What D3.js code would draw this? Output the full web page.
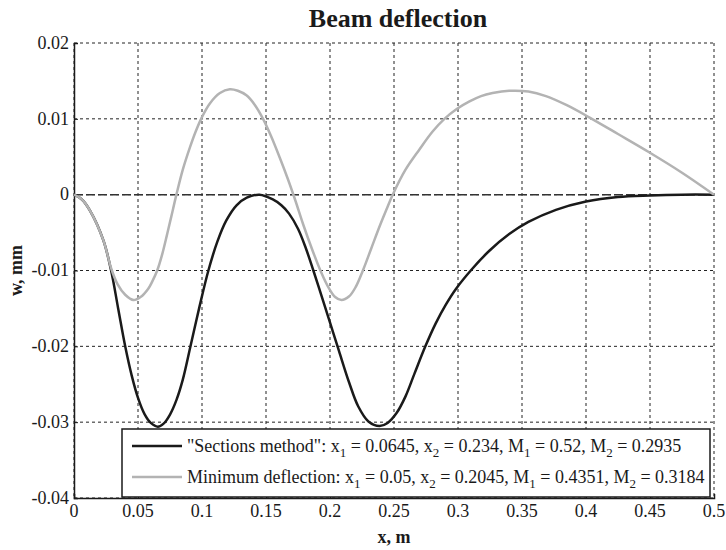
<!doctype html>
<html lang="en">
<head>
<meta charset="utf-8">
<style>
    body { margin: 0; background: #fff; }
    svg text { font-family: "Liberation Serif", "Times New Roman", serif; fill: #1a1a1a; }
    .tick-label { font-size: 18px; }
    .title { font-size: 26px; font-weight: bold; }
    .axis-label { font-size: 18px; font-weight: bold; }
    .legend text { font-size: 18px; }
</style>
<script src="https://d3js.org/d3.v7.min.js"></script>
</head>
<body>
<svg width="726" height="550"></svg>
<script>
// "Sections method" curve
const sectionsX = [0, 0.006, 0.0125, 0.0229, 0.029, 0.0345, 0.040, 0.045, 0.050, 0.055, 0.060, 0.0655, 0.070, 0.075,
    0.080, 0.085, 0.091, 0.098, 0.105, 0.112, 0.119, 0.127, 0.135, 0.145, 0.155, 0.162, 0.168, 0.175, 0.181, 0.187,
    0.195, 0.201, 0.207, 0.215, 0.222, 0.230, 0.2387, 0.245, 0.252, 0.259, 0.266, 0.2745, 0.2825, 0.2905, 0.2985,
    0.311, 0.3245, 0.340, 0.355, 0.3765, 0.400, 0.425, 0.450, 0.475, 0.500];
const sectionsW = [0, -0.0006, -0.0021, -0.0060, -0.0100, -0.0150, -0.0200, -0.0238, -0.0268, -0.0289, -0.0301, -0.0306,
    -0.0302, -0.0290, -0.0271, -0.0244, -0.0200, -0.0148, -0.0100, -0.0062, -0.0034, -0.0014, -0.0004, 0, -0.0006,
    -0.0014, -0.0025, -0.0045, -0.0070, -0.0100, -0.0142, -0.0174, -0.0206, -0.0248, -0.0279, -0.0299, -0.0305,
    -0.0301, -0.0288, -0.0266, -0.0236, -0.0200, -0.0170, -0.0145, -0.0124, -0.0098, -0.0074, -0.0052, -0.0036,
    -0.0020, -0.0009, -0.0003, -0.0001, 0, 0];

// "Minimum deflection" curve
const minimumX = [0, 0.006, 0.0125, 0.0229, 0.029, 0.034, 0.040, 0.0465, 0.052, 0.058, 0.061, 0.065, 0.069, 0.0725,
    0.076, 0.080, 0.085, 0.0905, 0.095, 0.0996, 0.106, 0.114, 0.1217, 0.128, 0.1347, 0.141, 0.1477, 0.154, 0.1607,
    0.167, 0.173, 0.179, 0.186, 0.193, 0.199, 0.204, 0.209, 0.215, 0.220, 0.2257, 0.232, 0.2387, 0.244, 0.249, 0.259,
    0.270, 0.280, 0.2894, 0.299, 0.309, 0.318, 0.327, 0.340, 0.355, 0.3687, 0.385, 0.4025, 0.425, 0.4493, 0.475, 0.500];
const minimumW = [0, -0.0006, -0.0021, -0.0060, -0.0097, -0.0118, -0.0132, -0.0139, -0.0135, -0.0124, -0.0115, -0.0100,
    -0.0078, -0.0054, -0.0029, 0, 0.0033, 0.0062, 0.0083, 0.0101, 0.0120, 0.0134, 0.0139, 0.0137, 0.0131, 0.0119,
    0.0100, 0.0077, 0.0049, 0.0021, -0.0008, -0.0039, -0.0072, -0.0102, -0.0123, -0.0135, -0.0139, -0.0134, -0.0122,
    -0.0100, -0.0072, -0.0042, -0.0020, 0, 0.0033, 0.0060, 0.0083, 0.0100, 0.0113, 0.0123, 0.0130, 0.0134, 0.0137,
    0.0136, 0.0130, 0.0118, 0.0102, 0.0080, 0.0056, 0.0029, 0];

const xTicks = [0, 0.05, 0.1, 0.15, 0.2, 0.25, 0.3, 0.35, 0.4, 0.45, 0.5];
const xTickLabels = ["0", "0.05", "0.1", "0.15", "0.2", "0.25", "0.3", "0.35", "0.4", "0.45", "0.5"];
const yTicks = [0.02, 0.01, 0, -0.01, -0.02, -0.03, -0.04];
const yTickLabels = ["0.02", "0.01", "0", "-0.01", "-0.02", "-0.03", "-0.04"];

const legendLabels = [
    '"Sections method": x_1 = 0.0645, x_2 = 0.234, M_1 = 0.52, M_2 = 0.2935',
    'Minimum deflection: x_1 = 0.05, x_2 = 0.2045, M_1 = 0.4351, M_2 = 0.3184'
];
const lineColors = ["#1a1a1a", "#b3b3b3"];

const margin = { top: 43, right: 12, bottom: 52, left: 74 };
const width = 726 - margin.left - margin.right;
const height = 550 - margin.top - margin.bottom;

const svg = d3.select("svg");
const g = svg.append("g").attr("transform", `translate(${margin.left},${margin.top})`);

const x = d3.scaleLinear().domain([0, 0.5]).range([0, width]);
const y = d3.scaleLinear().domain([-0.04, 0.02]).range([height, 0]);

// grid
g.append("g")
    .selectAll("line")
    .data(xTicks)
    .join("line")
    .attr("x1", d => x(d)).attr("x2", d => x(d))
    .attr("y1", 0).attr("y2", height)
    .attr("stroke", "#222").attr("stroke-width", 1)
    .attr("stroke-dasharray", "3,3");

g.append("g")
    .selectAll("line")
    .data(yTicks)
    .join("line")
    .attr("x1", 0).attr("x2", width)
    .attr("y1", d => y(d)).attr("y2", d => y(d))
    .attr("stroke", "#222").attr("stroke-width", 1)
    .attr("stroke-dasharray", "3,3");

// zero line
g.append("line")
    .attr("x1", 0).attr("x2", width)
    .attr("y1", y(0)).attr("y2", y(0))
    .attr("stroke", "#333").attr("stroke-width", 1.5)
    .attr("stroke-dasharray", "9,3");

// axes (lines and ticks), labels drawn separately
const xAxis = g.append("g")
    .attr("transform", `translate(0,${height})`)
    .call(d3.axisBottom(x).tickValues(xTicks).tickSize(-4).tickFormat(""));
const yAxis = g.append("g")
    .call(d3.axisLeft(y).tickValues(yTicks).tickSize(-4).tickFormat(""));

[xAxis, yAxis].forEach(a => {
    a.select(".domain").attr("stroke", "#1a1a1a").attr("stroke-width", 1.5);
    a.selectAll(".tick line").attr("stroke", "#1a1a1a");
    a.selectAll(".tick text").remove();
});

g.append("g")
    .selectAll("text")
    .data(xTicks)
    .join("text")
    .attr("class", "tick-label")
    .attr("x", d => x(d))
    .attr("y", height + 19)
    .attr("text-anchor", "middle")
    .text((d, i) => xTickLabels[i]);

g.append("g")
    .selectAll("text")
    .data(yTicks)
    .join("text")
    .attr("class", "tick-label")
    .attr("x", -5)
    .attr("y", d => y(d))
    .attr("dy", "0.32em")
    .attr("text-anchor", "end")
    .text((d, i) => yTickLabels[i]);

// curves
const line = d3.line()
    .x(d => x(d[0]))
    .y(d => y(d[1]))
    .curve(d3.curveCatmullRom.alpha(0.5));

g.append("path")
    .datum(d3.zip(sectionsX, sectionsW))
    .attr("fill", "none")
    .attr("stroke", lineColors[0])
    .attr("stroke-width", 2.5)
    .attr("d", line);

g.append("path")
    .datum(d3.zip(minimumX, minimumW))
    .attr("fill", "none")
    .attr("stroke", lineColors[1])
    .attr("stroke-width", 2.5)
    .attr("d", line);

// title and axis labels
svg.append("text")
    .attr("class", "title")
    .attr("x", 398)
    .attr("y", 27)
    .attr("text-anchor", "middle")
    .text("Beam deflection");

svg.append("text")
    .attr("class", "axis-label")
    .attr("x", margin.left + width / 2)
    .attr("y", 543)
    .attr("text-anchor", "middle")
    .text("x, m");

svg.append("text")
    .attr("class", "axis-label")
    .attr("transform", `translate(22,${margin.top + height / 2}) rotate(-90)`)
    .attr("text-anchor", "middle")
    .text("w, mm");

// legend
const legend = svg.append("g").attr("class", "legend");
legend.append("rect")
    .attr("x", 122).attr("y", 429)
    .attr("width", 588).attr("height", 68)
    .attr("fill", "#fff")
    .attr("stroke", "#1a1a1a").attr("stroke-width", 1.5);

legendLabels.forEach((label, i) => {
    const ly = 446 + i * 31;
    legend.append("line")
        .attr("x1", 132).attr("x2", 182)
        .attr("y1", ly).attr("y2", ly)
        .attr("stroke", lineColors[i]).attr("stroke-width", 2.5);
    const t = legend.append("text")
        .attr("x", 187).attr("y", ly + 6);
    let shift = 0;
    label.split(/(_\d)/).forEach(part => {
        if (part === "") return;
        if (part.startsWith("_")) {
            t.append("tspan").attr("dy", 5 - shift).style("font-size", "13px").text(part.slice(1));
            shift = 5;
        } else {
            t.append("tspan").attr("dy", -shift).text(part);
            shift = 0;
        }
    });
});
</script>
</body>
</html>
